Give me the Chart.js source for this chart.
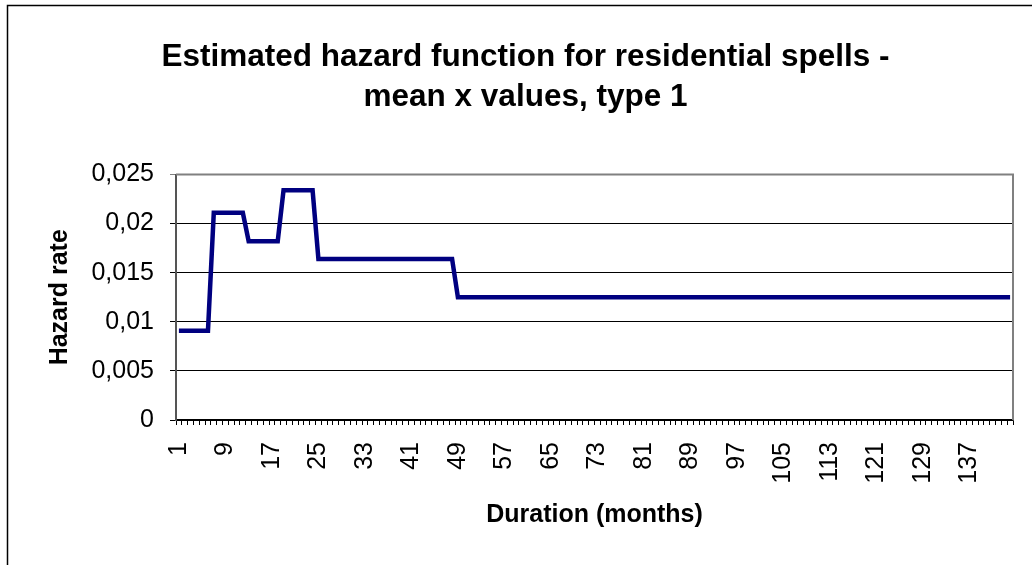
<!DOCTYPE html>
<html>
<head>
<meta charset="utf-8">
<script src="https://cdn.jsdelivr.net/npm/chart.js@4"></script>
<style>
  html, body { margin: 0; padding: 0; background: #ffffff; }
  #wrap { width: 1032px; height: 565px; position: relative; }
</style>
</head>
<body>
<div id="wrap"><canvas id="c" width="1032" height="565"></canvas></div>
<script>
// Categories: duration in months
const months = [
  1, 2, 3, 4, 5, 6, 7, 8, 9, 10, 11, 12,
  13, 14, 15, 16, 17, 18, 19, 20, 21, 22, 23, 24,
  25, 26, 27, 28, 29, 30, 31, 32, 33, 34, 35, 36,
  37, 38, 39, 40, 41, 42, 43, 44, 45, 46, 47, 48,
  49, 50, 51, 52, 53, 54, 55, 56, 57, 58, 59, 60,
  61, 62, 63, 64, 65, 66, 67, 68, 69, 70, 71, 72,
  73, 74, 75, 76, 77, 78, 79, 80, 81, 82, 83, 84,
  85, 86, 87, 88, 89, 90, 91, 92, 93, 94, 95, 96,
  97, 98, 99, 100, 101, 102, 103, 104, 105, 106, 107, 108,
  109, 110, 111, 112, 113, 114, 115, 116, 117, 118, 119, 120,
  121, 122, 123, 124, 125, 126, 127, 128, 129, 130, 131, 132,
  133, 134, 135, 136, 137, 138, 139, 140, 141, 142, 143, 144
];

// Series: estimated hazard rate per month
const hazardRate = [
  0.0091, 0.0091, 0.0091, 0.0091, 0.0091, 0.0091, 0.0211, 0.0211, 0.0211, 0.0211, 0.0211, 0.0211,
  0.0182, 0.0182, 0.0182, 0.0182, 0.0182, 0.0182, 0.0234, 0.0234, 0.0234, 0.0234, 0.0234, 0.0234,
  0.0164, 0.0164, 0.0164, 0.0164, 0.0164, 0.0164, 0.0164, 0.0164, 0.0164, 0.0164, 0.0164, 0.0164,
  0.0164, 0.0164, 0.0164, 0.0164, 0.0164, 0.0164, 0.0164, 0.0164, 0.0164, 0.0164, 0.0164, 0.0164,
  0.0125, 0.0125, 0.0125, 0.0125, 0.0125, 0.0125, 0.0125, 0.0125, 0.0125, 0.0125, 0.0125, 0.0125,
  0.0125, 0.0125, 0.0125, 0.0125, 0.0125, 0.0125, 0.0125, 0.0125, 0.0125, 0.0125, 0.0125, 0.0125,
  0.0125, 0.0125, 0.0125, 0.0125, 0.0125, 0.0125, 0.0125, 0.0125, 0.0125, 0.0125, 0.0125, 0.0125,
  0.0125, 0.0125, 0.0125, 0.0125, 0.0125, 0.0125, 0.0125, 0.0125, 0.0125, 0.0125, 0.0125, 0.0125,
  0.0125, 0.0125, 0.0125, 0.0125, 0.0125, 0.0125, 0.0125, 0.0125, 0.0125, 0.0125, 0.0125, 0.0125,
  0.0125, 0.0125, 0.0125, 0.0125, 0.0125, 0.0125, 0.0125, 0.0125, 0.0125, 0.0125, 0.0125, 0.0125,
  0.0125, 0.0125, 0.0125, 0.0125, 0.0125, 0.0125, 0.0125, 0.0125, 0.0125, 0.0125, 0.0125, 0.0125,
  0.0125, 0.0125, 0.0125, 0.0125, 0.0125, 0.0125, 0.0125, 0.0125, 0.0125, 0.0125, 0.0125, 0.0125
];

// Tick labels
const xTickLabels = ['1', '9', '17', '25', '33', '41', '49', '57', '65', '73', '81', '89', '97', '105', '113', '121', '129', '137'];
const yTickValues = [0, 0.005, 0.01, 0.015, 0.02, 0.025];
const yTickLabels = ['0', '0,005', '0,01', '0,015', '0,02', '0,025'];

const titleLines = ['Estimated hazard function for residential spells -', 'mean x values, type 1'];
const xTitle = 'Duration (months)';
const yTitle = 'Hazard rate';

const FONT = "'Liberation Sans', Arial, sans-serif";

const frame = {
  id: 'frame',
  beforeDraw(chart) {
    const ctx = chart.ctx;
    ctx.save();
    ctx.strokeStyle = '#000000';
    ctx.lineWidth = 1.5;
    ctx.beginPath();
    ctx.moveTo(7.5, 600);
    ctx.lineTo(7.5, 5.5);
    ctx.lineTo(1100, 5.5);
    ctx.stroke();
    ctx.restore();
  },
  beforeDatasetsDraw(chart) {
    const { ctx, chartArea: a } = chart;
    ctx.save();
    ctx.strokeStyle = '#808080';
    ctx.lineWidth = 2;
    ctx.beginPath();
    ctx.moveTo(a.left, a.top);
    ctx.lineTo(a.right, a.top);
    ctx.lineTo(a.right, a.bottom);
    ctx.stroke();
    ctx.restore();
  }
};

new Chart(document.getElementById('c'), {
  type: 'line',
  data: {
    labels: months,
    datasets: [{
      data: hazardRate,
      borderColor: '#000080',
      borderWidth: 4.5,
      pointRadius: 0,
      tension: 0,
      fill: false
    }]
  },
  options: {
    responsive: false,
    animation: false,
    devicePixelRatio: 1,
    layout: { padding: { left: 38, right: 19, top: 0, bottom: 0 } },
    plugins: {
      legend: { display: false },
      tooltip: { enabled: false },
      title: {
        display: true,
        text: titleLines,
        color: '#000000',
        font: { family: FONT, size: 31.5, weight: 'bold', lineHeight: 1.27 },
        padding: { top: 37, bottom: 57.5 }
      }
    },
    scales: {
      x: {
        type: 'category',
        offset: true,
        grid: {
          offset: true,
          drawOnChartArea: false,
          drawTicks: true,
          tickLength: 5,
          color: '#000000'
        },
        border: { display: true, color: '#000000', width: 1.5 },
        ticks: {
          autoSkip: false,
          minRotation: 90,
          maxRotation: 90,
          padding: 17,
          color: '#000000',
          font: { family: FONT, size: 25 },
          callback: function (value, index) {
            const lab = String(months[index]);
            return xTickLabels.includes(lab) ? lab : '';
          }
        },
        title: {
          display: true,
          text: xTitle,
          color: '#000000',
          font: { family: FONT, size: 25, weight: 'bold', lineHeight: 1.2 },
          padding: { top: 0, bottom: 35 }
        },
        afterFit(scale) {
          scale.height = 145;
          scale.paddingLeft = 0;
          scale.paddingRight = 0;
        }
      },
      y: {
        min: 0,
        max: 0.025,
        afterBuildTicks(scale) { scale.ticks = yTickValues.map(v => ({ value: v })); },
        grid: {
          drawTicks: true,
          tickLength: 6,
          color: (c) => (c.tick && c.tick.value === 0.025) ? '#808080' : '#000000',
          lineWidth: 1
        },
        border: { display: true, color: '#555555', width: 2 },
        ticks: {
          padding: 16,
          color: '#000000',
          font: { family: FONT, size: 25 },
          callback: function (value, index) { return yTickLabels[index]; }
        },
        title: {
          display: true,
          text: yTitle,
          color: '#000000',
          font: { family: FONT, size: 25, weight: 'bold', lineHeight: 1.2 },
          padding: { top: 7, bottom: 0 }
        },
        afterFit(scale) { scale.width = 138; }
      }
    }
  },
  plugins: [frame]
});
</script>
</body>
</html>
